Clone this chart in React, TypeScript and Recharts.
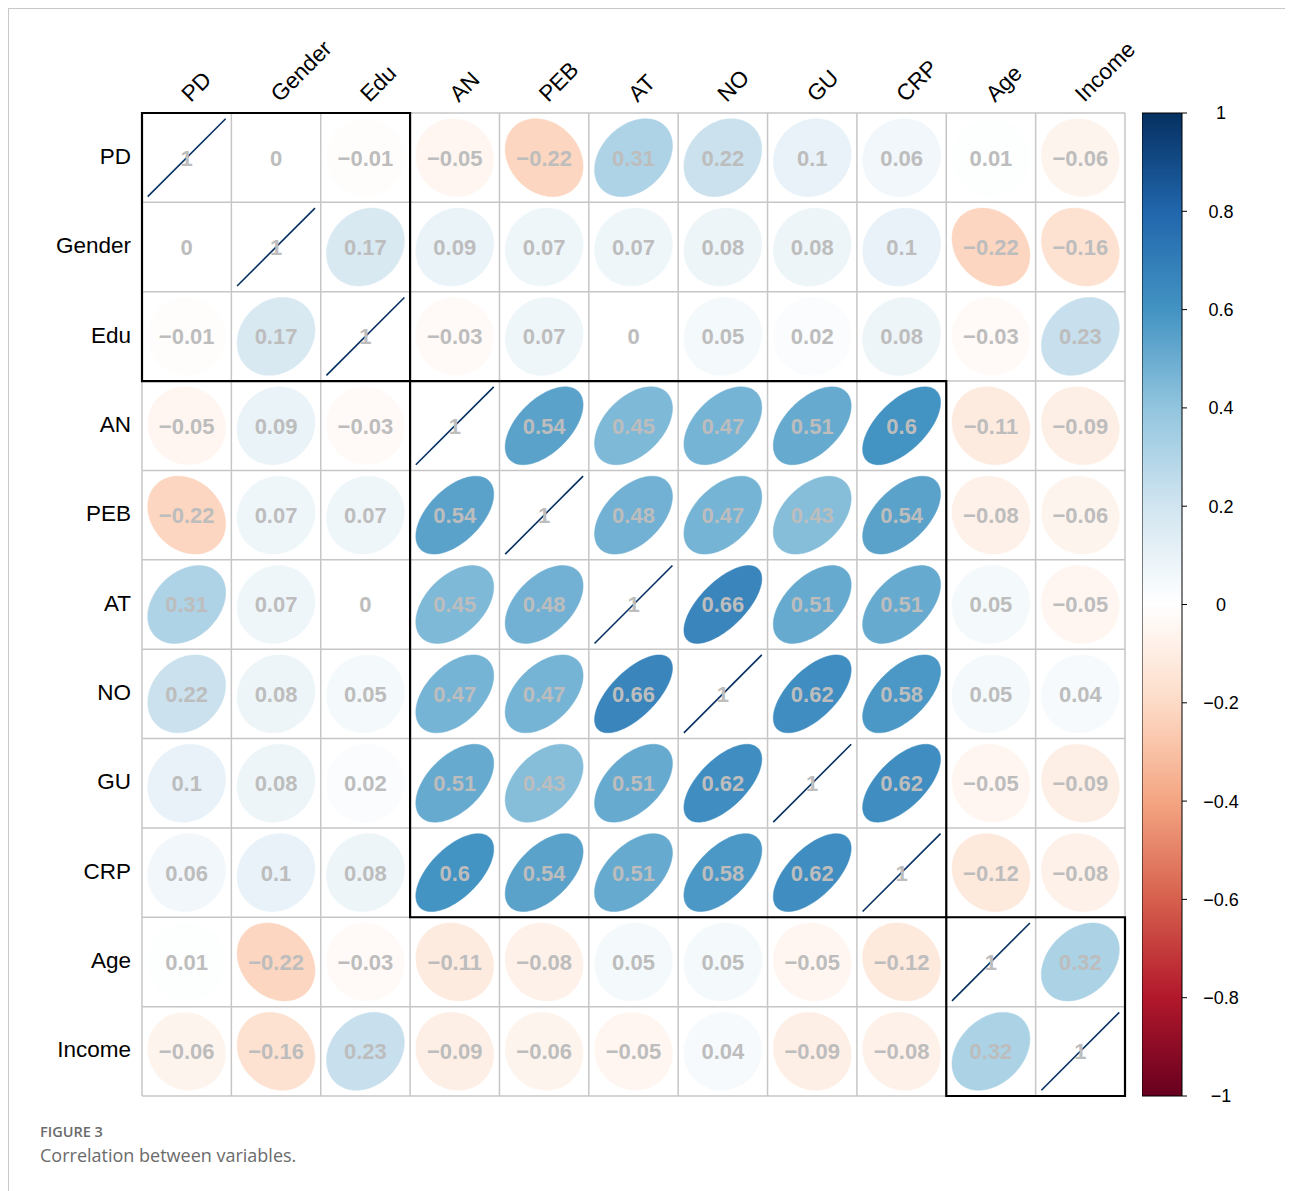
import React from 'react';
import { ScatterChart, Scatter, XAxis, YAxis, CartesianGrid, ReferenceArea, BarChart, Bar } from 'recharts';

const VARS = ['PD', 'Gender', 'Edu', 'AN', 'PEB', 'AT', 'NO', 'GU', 'CRP', 'Age', 'Income'];

// correlation rows, in the same order as VARS
const PD = [1, 0, -0.01, -0.05, -0.22, 0.31, 0.22, 0.1, 0.06, 0.01, -0.06];
const GENDER = [0, 1, 0.17, 0.09, 0.07, 0.07, 0.08, 0.08, 0.1, -0.22, -0.16];
const EDU = [-0.01, 0.17, 1, -0.03, 0.07, 0, 0.05, 0.02, 0.08, -0.03, 0.23];
const AN = [-0.05, 0.09, -0.03, 1, 0.54, 0.45, 0.47, 0.51, 0.6, -0.11, -0.09];
const PEB = [-0.22, 0.07, 0.07, 0.54, 1, 0.48, 0.47, 0.43, 0.54, -0.08, -0.06];
const AT = [0.31, 0.07, 0, 0.45, 0.48, 1, 0.66, 0.51, 0.51, 0.05, -0.05];
const NO = [0.22, 0.08, 0.05, 0.47, 0.47, 0.66, 1, 0.62, 0.58, 0.05, 0.04];
const GU = [0.1, 0.08, 0.02, 0.51, 0.43, 0.51, 0.62, 1, 0.62, -0.05, -0.09];
const CRP = [0.06, 0.1, 0.08, 0.6, 0.54, 0.51, 0.58, 0.62, 1, -0.12, -0.08];
const AGE = [0.01, -0.22, -0.03, -0.11, -0.08, 0.05, 0.05, -0.05, -0.12, 1, 0.32];
const INCOME = [-0.06, -0.16, 0.23, -0.09, -0.06, -0.05, 0.04, -0.09, -0.08, 0.32, 1];
const MATRIX = [PD, GENDER, EDU, AN, PEB, AT, NO, GU, CRP, AGE, INCOME];

// hierarchical clusters (start index, end index exclusive)
const CLUSTERS = [[0, 3], [3, 9], [9, 11]];

const LEGEND_TICKS = [-1, -0.8, -0.6, -0.4, -0.2, 0, 0.2, 0.4, 0.6, 0.8, 1];

// RdBu ramp, from -1 to 1
const PALETTE = ['#67001F', '#B2182B', '#D6604D', '#F4A582', '#FDDBC7', '#FFFFFF', '#D1E5F0', '#92C5DE', '#4393C3', '#2166AC', '#053061'];

const N = VARS.length;
const PLOT = 983;
const CELL = PLOT / N;
const RAD = CELL * 0.436;
const LEFT = 133;
const TOP = 104;
const LABEL_W = 120;
const LABEL_H = 90;
const FONT = 'Liberation Sans, Arial, Helvetica, sans-serif';

const hex = (c: string) => [1, 3, 5].map((i) => parseInt(c.slice(i, i + 2), 16));

const corrColor = (r: number) => {
  const t = ((r + 1) / 2) * (PALETTE.length - 1);
  const i = Math.min(Math.floor(t), PALETTE.length - 2);
  const f = t - i;
  const a = hex(PALETTE[i]);
  const b = hex(PALETTE[i + 1]);
  const m = a.map((v, k) => Math.round(v + (b[k] - v) * f));
  return `rgb(${m[0]},${m[1]},${m[2]})`;
};

const fmt = (v: number) => (v < 0 ? '\u2212' : '') + String(Math.abs(v));

const cells = MATRIX.flatMap((row, i) =>
  row.map((r, j) => ({ x: j + 0.5, y: i + 0.5, r }))
);

const CorrCell = (props: any) => {
  const { cx, cy, payload } = props;
  const r: number = payload.r;
  const color = corrColor(r);
  let mark;
  if (r >= 0.999) {
    mark = <line x1={cx - RAD} y1={cy + RAD} x2={cx + RAD} y2={cy - RAD} stroke={color} strokeWidth={1.6} />;
  } else {
    const d = Math.acos(r);
    const pts: string[] = [];
    for (let k = 0; k < 96; k++) {
      const t = (k / 96) * Math.PI * 2;
      pts.push(`${(cx + RAD * Math.cos(t + d / 2)).toFixed(2)},${(cy - RAD * Math.cos(t - d / 2)).toFixed(2)}`);
    }
    mark = <polygon points={pts.join(' ')} fill={color} stroke={color} strokeWidth={0.5} />;
  }
  return (
    <g>
      {mark}
      <text x={cx} y={cy} dy="0.36em" textAnchor="middle" style={{ fontFamily: FONT, fontWeight: 'bold', fontSize: 22 }} fill="#bdbdbd">
        {fmt(r)}
      </text>
    </g>
  );
};

// axis ticks sit on the cell boundaries; names go half a cell further on
const ColTick = (props: any) => {
  const { x, payload } = props;
  if (payload.value >= N) return <g />;
  const name = VARS[payload.value];
  const ax = x + CELL / 2 + 4;
  const ay = TOP - 10;
  return (
    <text x={ax} y={ay} transform={`rotate(-45 ${ax} ${ay})`} textAnchor="start" style={{ fontFamily: FONT, fontSize: 22.5 }} fill="#000">
      {name}
    </text>
  );
};

const RowTick = (props: any) => {
  const { y, payload } = props;
  if (payload.value >= N) return <g />;
  const name = VARS[payload.value];
  return (
    <text x={LEFT - 11} y={y + CELL / 2 - 2} dy="0.36em" textAnchor="end" style={{ fontFamily: FONT, fontSize: 22.5 }} fill="#000">
      {name}
    </text>
  );
};

const LegendTick = (props: any) => {
  const { x, y, payload } = props;
  return (
    <text x={x + 32} y={y} dy="0.36em" textAnchor="middle" style={{ fontFamily: FONT, fontSize: 18 }} fill="#000">
      {fmt(payload.value)}
    </text>
  );
};

const bounds = Array.from({ length: N + 1 }, (_, i) => i);
const scaleData = [{ name: 'scale', range: [-1, 1] }];

const App: React.FC = () => {
  return (
    <div
      style={{
        position: 'relative',
        width: 1285,
        height: 1190,
        border: '1px solid #c8c8c8',
        borderBottom: 'none',
        boxSizing: 'border-box',
        background: '#fff',
      }}
    >
      <div style={{ position: 'absolute', left: 0, top: 0 }}>
        <ScatterChart
          width={1130}
          height={1100}
          margin={{ left: LEFT - LABEL_W, top: TOP - LABEL_H, right: 1130 - LEFT - PLOT, bottom: 1100 - TOP - PLOT }}
        >
          <XAxis
            type="number"
            dataKey="x"
            orientation="top"
            domain={[0, N]}
            ticks={bounds}
            interval={0}
            height={LABEL_H}
            axisLine={false}
            tickLine={false}
            tick={<ColTick />}
          />
          <YAxis
            type="number"
            dataKey="y"
            domain={[0, N]}
            ticks={bounds}
            interval={0}
            reversed
            width={LABEL_W}
            axisLine={false}
            tickLine={false}
            tick={<RowTick />}
          />
          <CartesianGrid stroke="#c6c6c6" strokeWidth={1.5} />
          <Scatter data={cells} shape={CorrCell} isAnimationActive={false} />
          {CLUSTERS.map(([a, b]) => (
            <ReferenceArea
              key={a}
              x1={a}
              x2={b}
              y1={a}
              y2={b}
              fill="none"
              fillOpacity={0}
              stroke="#000"
              strokeWidth={2.2}
              ifOverflow="visible"
            />
          ))}
        </ScatterChart>
      </div>

      <div style={{ position: 'absolute', left: 1133, top: TOP - 12 }}>
        <BarChart width={110} height={PLOT + 24} data={scaleData} margin={{ top: 12, bottom: 12, left: 0, right: 0 }} barCategoryGap={0}>
          <defs>
            <linearGradient id="corrRamp" x1="0" y1="1" x2="0" y2="0">
              {PALETTE.map((c, i) => (
                <stop key={i} offset={`${(i / (PALETTE.length - 1)) * 100}%`} stopColor={c} />
              ))}
            </linearGradient>
          </defs>
          <XAxis dataKey="name" hide />
          <YAxis
            orientation="right"
            type="number"
            domain={[-1, 1]}
            ticks={LEGEND_TICKS}
            interval={0}
            width={70}
            axisLine={false}
            tickSize={5}
            tickLine={{ stroke: '#000' }}
            tick={<LegendTick />}
          />
          <Bar dataKey="range" fill="url(#corrRamp)" stroke="#000" strokeWidth={1} isAnimationActive={false} />
        </BarChart>
      </div>

      <div
        style={{
          position: 'absolute',
          left: 31,
          top: 1113,
          fontFamily: '"Open Sans", Lato, sans-serif',
          color: '#6b6b6b',
        }}
      >
        <div style={{ fontSize: 14.5, fontWeight: 600, lineHeight: '20px' }}>FIGURE 3</div>
        <div style={{ fontSize: 18, lineHeight: '27px' }}>Correlation between variables.</div>
      </div>
    </div>
  );
};

export default App;
